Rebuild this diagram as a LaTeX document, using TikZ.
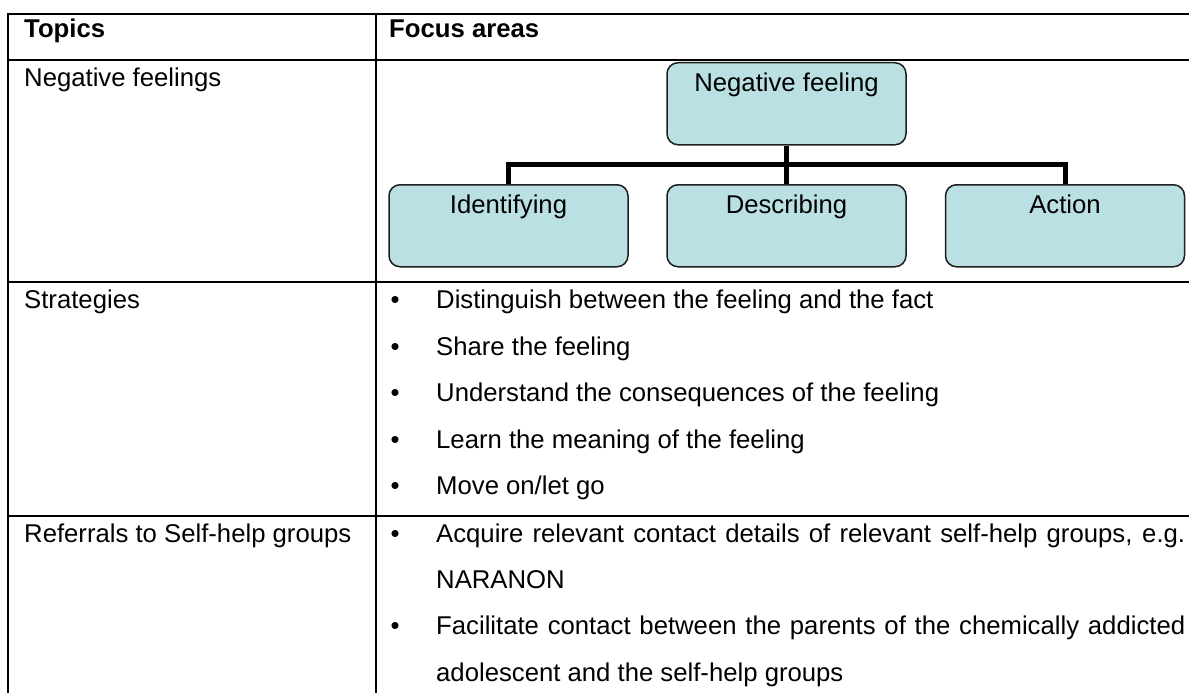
\documentclass[tikz,border=0pt]{standalone}
\usepackage{fontspec}
\setmainfont{Liberation Sans}
\definecolor{boxfill}{RGB}{186,224,228}
\definecolor{boxline}{RGB}{30,30,30}
\tikzset{
  tline/.style={line width=2pt, black},
  fbox/.style={draw=boxline, line width=1.5pt, fill=boxfill, rounded corners=11pt,
    minimum width=239pt, inner xsep=0pt, inner ysep=0pt, text height=29pt, text depth=53pt},
  conn/.style={line width=5pt, black},
  txt/.style={anchor=base west, inner sep=0pt},
  bul/.style={anchor=base, inner sep=0pt},
}
\begin{document}
\begin{tikzpicture}[x=1pt, y=-1pt, font=\fontsize{25.7}{46}\selectfont]
\useasboundingbox (0,0) rectangle (1189,693);
\fill[white] (0,0) rectangle (1189,693);
% table rules
\draw[tline] (8,14) -- (1189,14);
\draw[tline] (8,60) -- (1189,60);
\draw[tline] (8,282) -- (1189,282);
\draw[tline] (8,516) -- (1189,516);
\draw[tline] (8,13) -- (8,693);
\draw[tline] (376,13) -- (376,693);
% header
\node[txt] (hTopics) at (24,38) {\bfseries Topics};
\node[txt] (hFocus) at (389,38) {\bfseries Focus areas};
% row 1
\node[txt] (tNeg) at (24,86) {Negative feelings};
\node[fbox, anchor=north] (nf) at (786.5,62) {Negative feeling};
\node[fbox, anchor=north] (idf) at (508.5,184) {Identifying};
\node[fbox, anchor=north] (dsc) at (786.5,184) {Describing};
\node[fbox, anchor=north] (act) at (1065,184) {Action};
\coordinate (bus) at (786.5,164);
\draw[conn] (nf.south) -- (bus);
\draw[conn] (bus) -- (dsc.north);
\draw[conn] (idf.north) |- (bus) -| (act.north);
% row 2
\node[txt] (tStr) at (24,308.5) {Strategies};
\node[bul] (b1) at (395,308.5) {•};
\node[txt] (s1) at (436,308.5) {Distinguish between the feeling and the fact};
\node[bul] (b2) at (395,355) {•};
\node[txt] (s2) at (436,355) {Share the feeling};
\node[bul] (b3) at (395,401.5) {•};
\node[txt] (s3) at (436,401.5) {Understand the consequences of the feeling};
\node[bul] (b4) at (395,448) {•};
\node[txt] (s4) at (436,448) {Learn the meaning of the feeling};
\node[bul] (b5) at (395,494.5) {•};
\node[txt] (s5) at (436,494.5) {Move on/let go};
% row 3
\node[txt] (tRef) at (24,542.3) {Referrals to Self-help groups};
\node[bul] (b6) at (395,542.3) {•};
\node[txt] (r1a) at (436,542.3) {\makebox[749pt][s]{Acquire relevant contact details of relevant self-help groups, e.g.}};
\node[txt] (r1b) at (436,588.3) {NARANON};
\node[bul] (b7) at (395,634.3) {•};
\node[txt] (r2a) at (436,634.3) {\makebox[749pt][s]{Facilitate contact between the parents of the chemically addicted}};
\node[txt] (r2b) at (436,681) {adolescent and the self-help groups};
\end{tikzpicture}
\end{document}
